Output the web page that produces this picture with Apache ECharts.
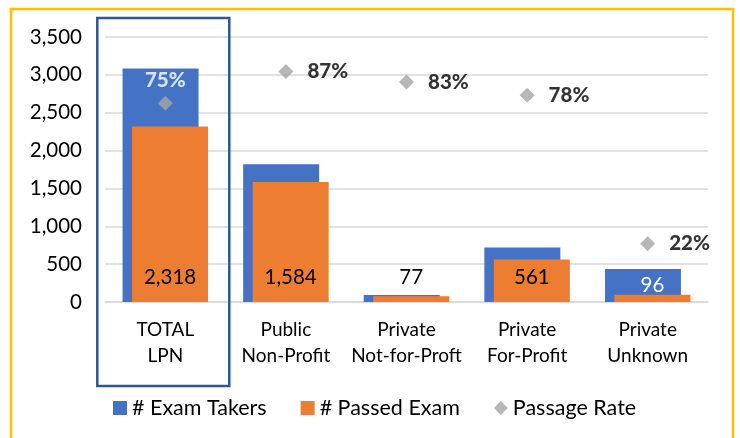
<!DOCTYPE html>
<html>
<head>
<meta charset="utf-8">
<script src="https://cdn.jsdelivr.net/npm/echarts@6/dist/echarts.min.js"></script>
<style>
html,body{margin:0;padding:0;background:#fff;}
#c{width:740px;height:438px;}
</style>
</head>
<body>
<div id="c"></div>
<script>
const categories = ['TOTAL\nLPN', 'Public\nNon-Profit', 'Private\nNot-for-Proft', 'Private\nFor-Profit', 'Private\nUnknown'];
const examTakers = [3085, 1820, 93, 719, 436];
const passedExam = [2318, 1584, 77, 561, 96];
const passageRate = [0.75, 0.87, 0.83, 0.78, 0.22];
const yTicks = [0, 500, 1000, 1500, 2000, 2500, 3000, 3500];

const FONT = 'Lato';
const chart = echarts.init(document.getElementById('c'), null, {renderer: 'canvas'});
const fmt = v => Number(v).toLocaleString('en-US');

const passedData = passedExam.map((v, i) => {
  if (i === 4) {
    return {value: v, label: {color: '#ffffff', distance: 6}};
  }
  return v;
});
const rateData = passageRate.map((v, i) => {
  if (i === 0) {
    return {value: v, label: {position: 'top', color: '#ffffff', distance: 5}};
  }
  return v;
});

chart.setOption({
  backgroundColor: '#ffffff',
  animation: false,
  textStyle: {fontFamily: FONT},
  grid: {left: 105, right: 32, top: 37, bottom: 136},
  legend: {
    left: 113, top: 397, padding: 0,
    itemWidth: 14, itemHeight: 14, itemGap: 34,
    textStyle: {fontFamily: FONT, fontSize: 21.5, color: '#000'},
    data: [
      {name: '# Exam Takers', icon: 'rect'},
      {name: '# Passed Exam', icon: 'rect'},
      {name: 'Passage Rate', icon: 'diamond'}
    ]
  },
  xAxis: {
    type: 'category',
    data: categories,
    axisLine: {show: true, lineStyle: {color: '#D9D9D9', width: 1.5}},
    axisTick: {show: false},
    axisLabel: {fontFamily: FONT, fontSize: 19, color: '#000', lineHeight: 26, margin: 15, interval: 0}
  },
  yAxis: [{
    type: 'value', min: yTicks[0], max: yTicks[yTicks.length - 1], interval: 500,
    axisLine: {show: false}, axisTick: {show: false},
    splitLine: {lineStyle: {color: '#D9D9D9', width: 1.5}},
    axisLabel: {fontFamily: FONT, fontSize: 20.5, color: '#000', margin: 23, formatter: fmt}
  }, {
    type: 'value', min: 0, max: 1, show: false, splitLine: {show: false}
  }],
  series: [{
    name: '# Exam Takers', type: 'bar', data: examTakers,
    barWidth: 76, barGap: '-87.5%',
    itemStyle: {color: '#4472C4'}
  }, {
    name: '# Passed Exam', type: 'bar', data: passedData,
    barWidth: 76, barGap: '-87.5%',
    itemStyle: {color: '#ED7D31'},
    label: {show: true, position: 'insideBottom', distance: 14, fontFamily: FONT, fontSize: 20.5, color: '#000', formatter: p => fmt(p.value)}
  }, {
    name: 'Passage Rate', type: 'scatter', yAxisIndex: 1, data: rateData,
    symbol: 'diamond', symbolSize: 15,
    itemStyle: {color: '#A5A5A5'},
    label: {show: true, position: 'right', distance: 14, fontFamily: FONT, fontSize: 20.5, fontWeight: 900, color: '#000',
      formatter: p => Math.round(p.value * 100) + '%'}
  }]
});

const cx = chart.convertToPixel({xAxisIndex: 0}, 0);
chart.setOption({
  graphic: [{
    type: 'rect', silent: true, z: 100,
    shape: {x: 11, y: 9, width: 722, height: 440},
    style: {fill: 'none', stroke: '#FFC000', lineWidth: 2.5}
  }, {
    type: 'rect', silent: true, z: 100,
    shape: {x: cx - 68, y: 18, width: 132, height: 368},
    style: {fill: 'none', stroke: '#2F5597', lineWidth: 2.5}
  }]
});
</script>
</body>
</html>
